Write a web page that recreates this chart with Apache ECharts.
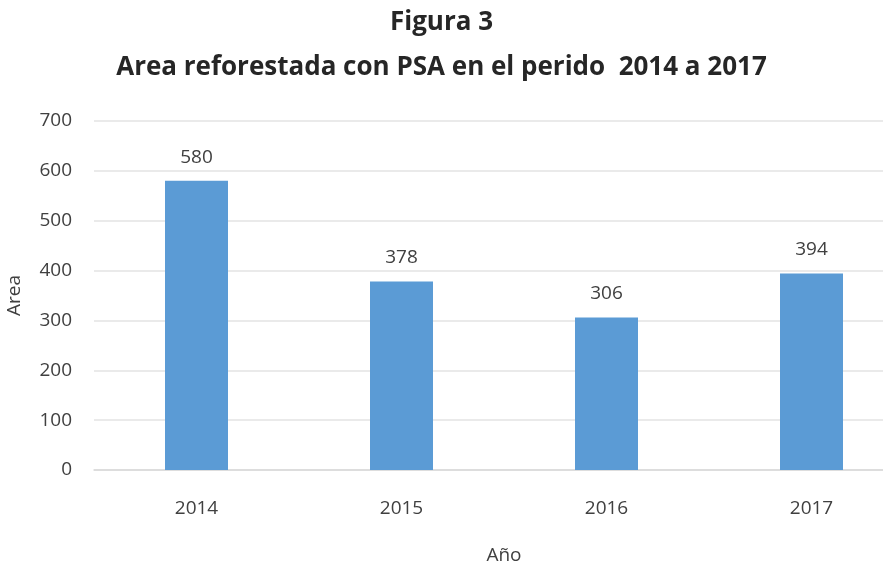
<!DOCTYPE html>
<html lang="es">
<head>
<meta charset="utf-8">
<title>Figura 3</title>
<script src="https://cdn.jsdelivr.net/npm/echarts@6/dist/echarts.min.js"></script>
<style>
  html, body { margin: 0; padding: 0; background: #fff; }
  #main { width: 883px; height: 571px; }
</style>
</head>
<body>
<div id="main"></div>
<script>
// datos
var years = ['2014', '2015', '2016', '2017'];
var areas = [580, 378, 306, 394];
var yTicks = [0, 100, 200, 300, 400, 500, 600, 700];

var font = '"Open Sans", "Liberation Sans", sans-serif';

var chart = echarts.init(document.getElementById('main'));
chart.setOption({
  animation: false,
  title: {
    text: 'Figura 3\nArea reforestada con PSA en el perido  2014 a 2017',
    left: 'center',
    top: -5,
    textStyle: {
      fontFamily: font,
      fontSize: 26,
      fontWeight: 'bold',
      color: '#262626',
      lineHeight: 45
    }
  },
  grid: { left: 94, top: 121, width: 820, height: 349, containLabel: false, outerBoundsMode: 'none' },
  xAxis: {
    type: 'category',
    data: years,
    name: 'Año',
    nameLocation: 'middle',
    nameGap: 76,
    nameTextStyle: { fontFamily: font, fontSize: 19, color: '#404040' },
    axisLine: { lineStyle: { color: '#d9d9d9', width: 1.5 } },
    axisTick: { show: false },
    axisLabel: { margin: 29, fontFamily: font, fontSize: 19, color: '#404040' }
  },
  yAxis: {
    type: 'value',
    min: yTicks[0],
    max: yTicks[yTicks.length - 1],
    interval: 100,
    name: 'Area',
    nameLocation: 'middle',
    nameGap: 70,
    nameTextStyle: { fontFamily: font, fontSize: 19, color: '#404040' },
    axisLine: { show: false },
    axisTick: { show: false },
    splitLine: { lineStyle: { color: '#e3e3e3', width: 1.5 } },
    axisLabel: { margin: 22, fontFamily: font, fontSize: 19, color: '#404040' }
  },
  series: [{
    type: 'bar',
    data: areas,
    barWidth: 63,
    itemStyle: { color: '#5b9bd5' },
    label: {
      show: true,
      position: 'top',
      distance: 14,
      fontFamily: font,
      fontSize: 19,
      color: '#404040'
    }
  }]
});
</script>
</body>
</html>
